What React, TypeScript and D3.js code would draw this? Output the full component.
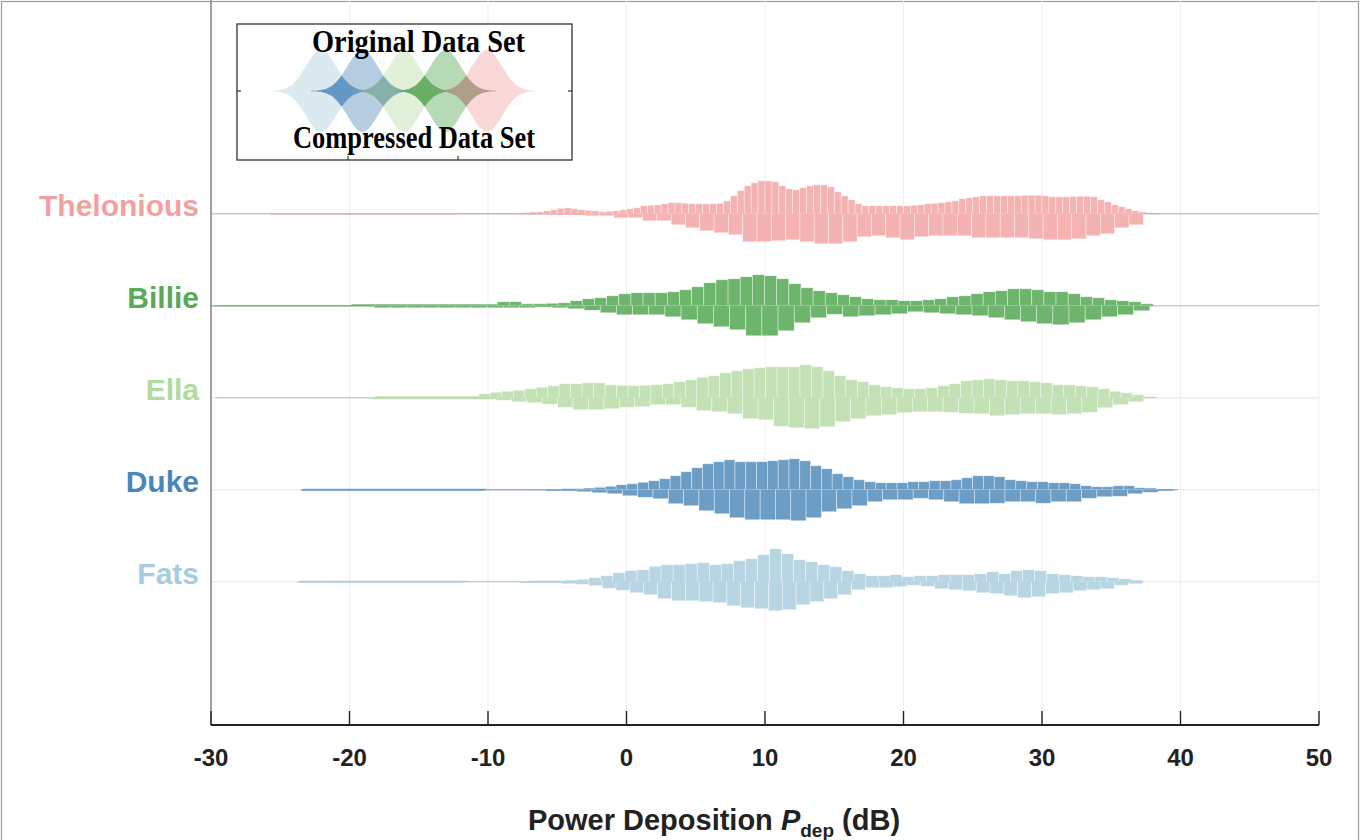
import React from 'react';
import * as d3 from 'd3';

// ---------------- DATA ----------------
const categories = ['Thelonious', 'Billie', 'Ella', 'Duke', 'Fats'];
const rowIndex = [5, 4, 3, 2, 1];
const xTicks = [-30, -20, -10, 0, 10, 20, 30, 40, 50];

// histogram bin layout (dB) for original (upper half) and compressed (lower half)
const origStarts = [-25, -29.5, -29.7, -23.37, -23.6];
const origWidths = [0.5, 0.877, 0.828, 0.78, 0.87];
const compStarts = [-25.7, -29.9, -29.47, -23.5, -23.75];
const compWidths = [1.033, 1.167, 1.1135, 1.105, 1.0];

// relative densities (original data set)
const theloniousOriginal = [
  0.8, 0.8, 0.8, 0.8, 0.8, 0.8, 0.8, 0.8, 0.8, 0.8, 0.8, 0.8, 0.8, 0.8, 0.8, 0.8, 0.8, 0.8, 0.8, 0.8, 0.8, 0.8, 0.8, 0.8, 0.8,
  0, 0, 0, 0, 0, 0, 0, 0, 0, 0,
  1, 1.5, 2, 3, 4, 5.5, 6, 5, 4, 3.5, 3, 2, 2.5, 3, 4, 5, 6, 8, 8.5, 9, 10, 11, 11, 10.5, 10, 10, 10, 10, 10.5,
  13, 18, 23, 28, 31, 33, 33, 32, 28, 25, 24, 26, 28, 29, 29, 27, 22, 18, 14, 10, 8, 8, 8, 8, 8, 8, 8, 8.5,
  9, 10, 10.5, 11, 12, 13, 15, 16, 17, 18, 18, 18, 18, 18, 18, 18.5, 18.5, 18.5, 18, 17, 17, 17, 17.5, 17.5,
  17.5, 17, 14, 12, 9, 7, 5, 3, 2, 1, 0.5,
];
const billieOriginal = [
  0.6, 0.6, 0.6, 0.6, 0.6, 0.6, 0.6, 0.6, 0.6, 0.6, 0.6,
  1.5, 1.5, 1.5, 1.5, 1.5, 1.5, 1.5, 1.5, 1.5, 1.5, 1.5, 1.5,
  4, 4, 2, 2, 2.5, 3, 5, 7, 8, 10, 12, 13, 13, 13, 14, 16, 19, 23, 26, 27, 29, 31, 30, 27, 22, 18, 15, 13, 11,
  9, 7, 6, 6, 5, 5, 6, 7, 9, 10, 12, 14, 15, 17, 17, 16, 14, 14, 12, 9, 8, 6, 5, 4, 2,
];
const ellaOriginal = [
  0.5, 0.5, 0.5, 0.5, 0.5, 0.5, 0.5, 0.5, 0.5, 0.5, 0.5, 0.5, 0.5, 0.5,
  1.5, 1.5, 1.5, 1.5, 1.5, 1.5, 1.5, 1.5, 1.5,
  4, 5.5, 6.5, 7.5, 9, 10.5, 12, 14, 14, 15, 15, 13, 12.5, 12, 12.5, 13, 14, 16, 18, 20.5,
  22, 25, 27, 29, 30, 31, 31, 31, 33, 31, 27, 22, 18, 16, 13, 11, 10, 9, 9, 10,
  12, 14, 17, 18, 19, 18, 17, 17, 16, 15, 13, 13, 12, 11, 9, 6.5, 5, 3, 1,
];
const dukeOriginal = [
  1, 1, 1, 1, 1, 1, 1, 1, 1, 1, 1, 1, 1, 1, 1, 1, 1,
  0.4, 0.4, 0.4, 0.4, 0.4, 0.4, 0.4,
  1, 1, 1.5, 2.5, 3.5, 5, 6, 7.5, 9, 11, 14, 18, 22, 26, 28, 30, 28, 28, 28, 29, 30, 31, 29, 24, 21, 16,
  13, 10, 8, 7, 7, 7, 8, 8, 9, 9, 10, 12, 14, 14, 13, 10, 9, 8, 8, 7, 7, 6, 4, 3, 3, 4, 4, 2, 1.5, 0.7, 0.5,
];
const fatsOriginal = [
  1, 1, 1, 1, 1, 1, 1, 1, 1, 1, 1, 1, 1, 1,
  0.3, 0.3, 0.3, 0.3, 0.3,
  1, 1, 1,
  1.5, 2.5, 4, 6, 9, 11, 12, 15.5, 17, 17, 18, 19, 17, 18, 21, 23, 27, 33, 28, 22, 20, 17, 15, 11,
  8, 6, 6, 7, 5, 6, 6, 7, 7, 7, 8, 10, 8, 11, 12, 11, 8, 7, 6, 5, 5, 4, 3, 1.5,
];

// relative densities (compressed data set)
const theloniousCompressed = [
  0.8, 0.8, 0.8, 0.8, 0.8, 0.8, 0.8, 0.8, 0.8, 0.8, 0.8, 0.8, 0.8,
  0, 0, 0, 0,
  0.5, 0.6, 0.8, 1, 1.2,
  2, 2, 4, 4, 7, 7, 11, 14, 17, 19, 21, 28, 28, 27, 26, 28, 30, 30, 28, 23,
  22, 24, 26, 23, 22, 22, 22, 24, 24, 24, 24, 25, 26, 26, 25, 22, 20, 14, 11,
];
const billieCompressed = [
  0.5, 0.5, 0.5, 0.5, 0.5, 0.5, 0.5, 0.5, 0.5, 0.5,
  2, 2, 2, 2, 2, 2, 2, 2, 2, 2,
  1, 2, 3, 4.5, 7, 9, 9, 9, 11, 14, 18, 21, 24, 30, 30, 25, 17, 12, 8.5, 11,
  10, 9, 8, 6, 7, 8, 9, 10, 12, 14, 16, 18, 19, 17, 14, 11, 9, 5,
];
const ellaCompressed = [
  0.5, 0.5, 0.5, 0.5, 0.5, 0.5, 0.5, 0.5, 0.5, 0.5,
  1.5, 1.5, 1.5, 1.5, 1.5, 1.5, 1.5, 1.5,
  2.5, 4, 5, 6.5, 9.5, 12, 12, 11, 9.5, 9, 7, 7, 9.5, 13, 14, 16, 21, 22, 28.5, 30,
  31, 29, 24, 21, 18, 17, 15, 14, 14, 14.5, 15.5, 16, 18, 17, 16, 16, 17, 16, 14.5, 10, 7, 4,
];
const dukeCompressed = [
  1, 1, 1, 1, 1, 1, 1, 1, 1, 1, 1, 1,
  0.4, 0.4, 0.4,
  0.5, 1, 1, 2, 3, 4, 6, 7.5, 9, 14, 16, 21, 24, 28, 30, 30, 30, 31, 28, 22, 19,
  16, 12, 10, 10, 8.5, 10, 12, 14, 14, 13.5, 12, 12, 13.5, 12, 12, 8.5, 7, 6.5, 4, 2.5, 1,
];
const fatsCompressed = [
  1, 1, 1, 1, 1, 1, 1, 1, 1, 1, 1, 1,
  0.3, 0.3, 0.3, 0.3,
  1, 1, 1,
  2, 2.5, 4, 6.5, 8.5, 11, 13, 17, 19, 19, 20, 21, 24, 26, 27, 29, 28, 23, 20, 17, 13,
  8, 6, 6, 5, 3.5, 4.5, 7, 8, 9, 11, 12, 14, 16, 15, 12, 11, 9, 8, 7, 3.5, 2,
];

const originalSets = [theloniousOriginal, billieOriginal, ellaOriginal, dukeOriginal, fatsOriginal];
const compressedSets = [theloniousCompressed, billieCompressed, ellaCompressed, dukeCompressed, fatsCompressed];

// ---------------- STYLES ----------------
const labelColors = ['#f2a1a1', '#5aa95a', '#b2db9f', '#4a86b8', '#a6cce0'];
const fillColors = ['#f5b2b2', '#6db46d', '#c3e1b4', '#6c9dc5', '#b7d5e3'];
const baselineColors = ['#c9c9c9', '#cdcdcd', '#ececec', '#efefef', '#efefef'];
const legendOrder = [4, 3, 2, 1, 0];
const legendStarColors = ['#5a8fbe', '#7fa9a4', '#5ea85a', '#a99680'];

const W = 1360;
const H = 840;
const SANS = '"Liberation Sans", Arial, Helvetica, sans-serif';
const SERIF = '"Liberation Serif", "Times New Roman", serif';

function Legend() {
  const bx = 237, by = 24, bw = 335, bh = 136;
  const cy = 91;
  const centers = legendOrder.map((_, i) => 321 + 41.5 * i);
  const amp = 41;
  const sigma = 15;
  const span = 52;
  const g = (d: number) => amp * Math.exp(-(d * d) / (2 * sigma * sigma));
  const xs = d3.range(-span, span + 0.5, 1);
  const violinPath = (c: number) =>
    d3
      .area<number>()
      .x((d) => c + d)
      .y0((d) => cy + g(d))
      .y1((d) => cy - g(d))
      .curve(d3.curveBasis)(xs) as string;
  const starPath = (c1: number, c2: number) => {
    const pts = d3.range(c2 - span, c1 + span + 0.5, 1);
    return d3
      .area<number>()
      .x((d) => d)
      .y0((d) => cy + Math.min(g(d - c1), g(d - c2)))
      .y1((d) => cy - Math.min(g(d - c1), g(d - c2)))
      .curve(d3.curveBasis)(pts) as string;
  };
  return (
    <g>
      <rect x={bx} y={by} width={bw} height={bh} fill="#fff" stroke="#333" strokeWidth={1.3} />
      {legendOrder.map((si, i) => (
        <path key={'lv' + i} d={violinPath(centers[i])} fill={fillColors[si]} fillOpacity={0.5} />
      ))}
      {centers.slice(0, -1).map((c, i) => (
        <path key={'ls' + i} d={starPath(c, centers[i + 1])} fill={legendStarColors[i]} fillOpacity={0.85} />
      ))}
      <line x1={bx} x2={bx + 4} y1={cy} y2={cy} stroke="#333" strokeWidth={1.2} />
      <line x1={bx + bw - 4} x2={bx + bw} y1={cy} y2={cy} stroke="#333" strokeWidth={1.2} />
      <line x1={348} x2={348} y1={by + bh - 4} y2={by + bh} stroke="#333" strokeWidth={1.2} />
      <line x1={458} x2={458} y1={by + bh - 4} y2={by + bh} stroke="#333" strokeWidth={1.2} />
      <text
        x={418.5}
        y={52}
        textAnchor="middle"
        fontFamily={SERIF}
        fontWeight="bold"
        fontSize={31}
        textLength={213}
        lengthAdjust="spacingAndGlyphs"
        fill="#000"
      >
        Original Data Set
      </text>
      <text
        x={414}
        y={148}
        textAnchor="middle"
        fontFamily={SERIF}
        fontWeight="bold"
        fontSize={31}
        textLength={242}
        lengthAdjust="spacingAndGlyphs"
        fill="#000"
      >
        Compressed Data Set
      </text>
    </g>
  );
}

export default function App() {
  const x = d3.scaleLinear().domain([-30, 50]).range([211, 1319]);
  const y = d3.scaleLinear().domain([-0.557, 7.324]).range([725, 0]);
  const h = d3.scaleLinear().domain([0, 40]).range([0, 40]);
  const plotTop = 0;
  const plotBottom = 725;

  const violins = categories.map((name, i) => {
    const cy = y(rowIndex[i]);
    const o = originalSets[i];
    const c = compressedSets[i];
    const top = o.map((v, k) => ({
      x0: x(origStarts[i] + k * origWidths[i]),
      x1: x(origStarts[i] + (k + 1) * origWidths[i]),
      v,
    }));
    const bottom = c.map((v, k) => ({
      x0: x(compStarts[i] + k * compWidths[i]),
      x1: x(compStarts[i] + (k + 1) * compWidths[i]),
      v,
    }));
    const xmin = Math.min(top[0].x0, bottom[0].x0);
    const xmax = Math.max(top[top.length - 1].x1, bottom[bottom.length - 1].x1);
    return { name, i, cy, top, bottom, xmin, xmax };
  });

  return (
    <svg
      width={W}
      height={H}
      viewBox={`0 0 ${W} ${H}`}
      style={{ position: 'absolute', left: 0, top: 0, background: '#fff' }}
    >
      <rect x={0} y={0} width={W} height={H} fill="#fff" />
      <rect x={1.5} y={1.5} width={W - 3} height={H + 10} fill="none" stroke="#9a9a9a" strokeWidth={1.2} />

      {xTicks.map((t) => (
        <line key={'g' + t} x1={x(t)} x2={x(t)} y1={plotTop} y2={plotBottom} stroke="#efefef" strokeWidth={1} />
      ))}

      {violins.map((vl) => (
        <line
          key={'b' + vl.i}
          x1={x(-30)}
          x2={x(50)}
          y1={vl.cy}
          y2={vl.cy}
          stroke={baselineColors[vl.i]}
          strokeWidth={1.6}
        />
      ))}

      {violins.map((vl) => {
        const fill = fillColors[vl.i];
        const dark = d3.color(fill)!.darker(0.5).formatHex();
        return (
          <g key={'v' + vl.i}>
            {vl.top.map((b, k) =>
              b.v > 0 ? (
                <rect
                  key={'t' + k}
                  x={b.x0}
                  y={vl.cy - h(b.v)}
                  width={b.x1 - b.x0}
                  height={h(b.v)}
                  fill={fill}
                  stroke={b.v >= 2 ? '#ffffff' : 'none'}
                  strokeOpacity={0.55}
                  strokeWidth={0.7}
                />
              ) : null
            )}
            {vl.bottom.map((b, k) =>
              b.v > 0 ? (
                <rect
                  key={'m' + k}
                  x={b.x0}
                  y={vl.cy}
                  width={b.x1 - b.x0}
                  height={h(b.v)}
                  fill={fill}
                  stroke={b.v >= 2 ? '#ffffff' : 'none'}
                  strokeOpacity={0.55}
                  strokeWidth={0.7}
                />
              ) : null
            )}
            <line
              x1={vl.xmin}
              x2={vl.xmax}
              y1={vl.cy}
              y2={vl.cy}
              stroke={dark}
              strokeOpacity={0.45}
              strokeWidth={1}
            />
          </g>
        );
      })}

      {violins.map((vl) => (
        <text
          key={'l' + vl.i}
          x={199}
          y={vl.cy - 8}
          textAnchor="end"
          dominantBaseline="central"
          fontFamily={SANS}
          fontWeight="bold"
          fontSize={30}
          fill={labelColors[vl.i]}
        >
          {vl.name}
        </text>
      ))}

      <line x1={x(-30)} x2={x(-30)} y1={0} y2={plotBottom} stroke="#8a8a8a" strokeWidth={1.6} />
      <line x1={x(-30)} x2={x(50)} y1={plotBottom} y2={plotBottom} stroke="#222" strokeWidth={2} />
      {xTicks.map((t) => (
        <g key={'t' + t}>
          <line x1={x(t)} x2={x(t)} y1={plotBottom - 14} y2={plotBottom} stroke="#222" strokeWidth={1.4} />
          <text
            x={x(t)}
            y={766}
            textAnchor="middle"
            fontFamily={SANS}
            fontWeight="bold"
            fontSize={24}
            fill="#222"
          >
            {t}
          </text>
        </g>
      ))}
      <text x={714} y={830} textAnchor="middle" fontFamily={SANS} fontWeight="bold" fontSize={29} fill="#222">
        Power Deposition <tspan fontStyle="italic">P</tspan>
        <tspan dy={7} fontSize={19}>
          dep
        </tspan>
        <tspan dy={-7}> (dB)</tspan>
      </text>

      <Legend />
    </svg>
  );
}
